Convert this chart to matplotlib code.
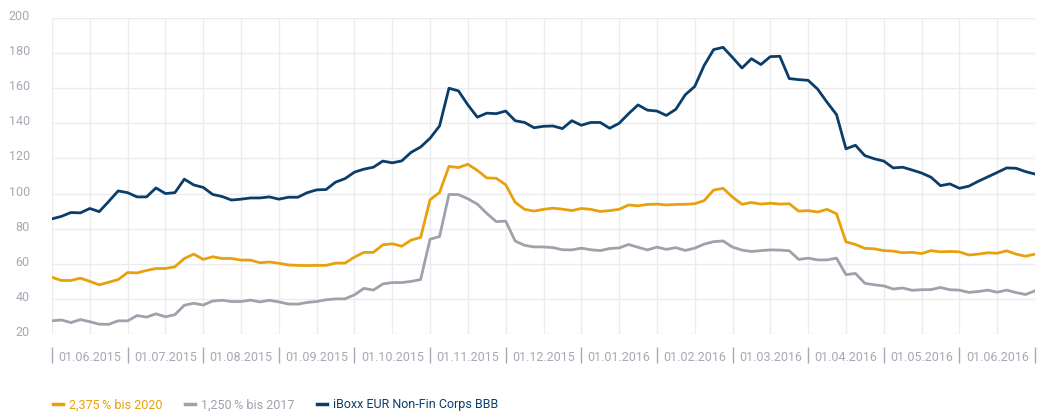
import numpy as np
import matplotlib
matplotlib.use("Agg")
from matplotlib import pyplot as plt
from matplotlib.lines import Line2D
import matplotlib.transforms as mtransforms

plt.rcParams['font.family'] = ['Roboto', 'DejaVu Sans']

##################################
# DATA (spreads, read every quarter of a grid step = ~1 week)
##################################
month_labels = ["01.06.2015", "01.07.2015", "01.08.2015", "01.09.2015",
                "01.10.2015", "01.11.2015", "01.12.2015", "01.01.2016",
                "01.02.2016", "01.03.2016", "01.04.2016", "01.05.2016",
                "01.06.2016"]
y_ticks = [20, 40, 60, 80, 100, 120, 140, 160, 180, 200]

name_2020 = "2,375\u2009% bis 2020"
name_2017 = "1,250\u2009% bis 2017"
name_iboxx = "iBoxx EUR Non-Fin Corps BBB"

bond_2020 = [52.3, 50.5, 50.5, 51.8, 50.0, 48.0, 49.5, 51.0, 55.0, 54.8, 56.2, 57.3, 57.3, 58.3,
             63.0, 65.5, 62.5, 64.0, 63.0, 63.0, 62.1, 62.1, 60.6, 61.0, 60.3, 59.3, 59.1,
             59.0, 59.1, 59.1, 60.4, 60.4, 63.8, 66.5, 66.5, 70.8, 71.4, 70.0, 73.5, 75.0,
             96.5, 100.6, 115.5, 114.8, 116.7, 113.2, 108.9, 108.7, 105.0, 95.0, 91.0, 90.0, 91.0,
             91.7, 91.1, 90.3, 91.5, 91.0, 89.8, 90.3, 91.0, 93.5, 93.0, 93.8, 94.0, 93.5, 93.8,
             93.9, 94.2, 96.0, 102.0, 103.0, 98.0, 93.9, 94.9, 94.0, 94.5, 94.0, 94.2, 90.0,
             90.3, 89.5, 91.0, 88.5, 72.5, 71.0, 68.8, 68.5, 67.5, 67.2, 66.3, 66.5, 65.8,
             67.5, 66.8, 67.0, 66.8, 65.0, 65.5, 66.3, 66.0, 67.4, 65.5, 64.3, 65.5]

bond_2017 = [27.5, 28.0, 26.5, 28.2, 27.0, 25.6, 25.5, 27.5, 27.5, 30.5, 29.6, 31.5, 29.8, 31.0,
             36.4, 37.5, 36.5, 38.8, 39.2, 38.5, 38.5, 39.3, 38.3, 39.2, 38.3, 37.1, 37.0,
             38.0, 38.5, 39.5, 40.0, 40.0, 42.3, 46.0, 45.0, 48.5, 49.3, 49.3, 50.0, 51.0,
             74.0, 75.5, 99.5, 99.4, 97.0, 94.0, 88.7, 84.0, 84.3, 73.0, 70.5, 69.6, 69.6,
             69.2, 68.0, 67.9, 68.9, 68.0, 67.5, 68.7, 69.0, 71.0, 69.4, 67.9, 69.5, 68.2, 69.2,
             67.6, 68.9, 71.2, 72.6, 73.0, 69.5, 67.8, 67.0, 67.5, 67.9, 67.8, 67.4, 62.5,
             63.2, 62.2, 62.2, 63.2, 53.8, 54.5, 48.9, 48.0, 47.4, 45.6, 46.2, 44.9, 45.2,
             45.3, 46.5, 45.2, 45.0, 43.7, 44.2, 45.0, 43.8, 45.0, 43.6, 42.5, 44.6]

iboxx_bbb = [85.6, 87.0, 89.2, 89.0, 91.5, 89.7, 95.5, 101.5, 100.5, 98.1, 98.1, 103.2, 100.0, 100.5,
             108.2, 104.9, 103.5, 99.5, 98.3, 96.3, 96.8, 97.5, 97.5, 98.1, 96.8, 97.9, 97.9,
             100.5, 102.1, 102.3, 106.5, 108.5, 112.2, 113.9, 115.0, 118.5, 117.5, 118.6, 123.5, 126.5,
             131.5, 138.5, 160.0, 158.5, 150.5, 143.5, 145.8, 145.5, 147.0, 141.5, 140.5, 137.5, 138.3,
             138.5, 137.0, 141.5, 138.9, 140.5, 140.5, 137.2, 140.0, 145.5, 150.5, 147.5, 147.0, 144.5,
             148.0, 156.3, 161.0, 173.0, 182.0, 183.3, 177.5, 171.5, 176.8, 173.5, 178.0, 178.2, 165.5,
             164.9, 164.5, 159.5, 152.0, 145.0, 125.5, 127.5, 121.6, 119.8, 118.5, 114.6, 115.0, 113.4,
             111.7, 109.3, 104.5, 105.5, 103.0, 104.2, 107.0, 109.5, 112.0, 114.6, 114.4, 112.5, 111.1]

# colours
c_2020 = "#e8a10c"
c_2017 = "#9da2ab"
c_iboxx = "#0b3d6b"
c_text = "#a4a9b3"
c_grid = "#ececee"

# x position in half-month grid steps (0 = mid May 2015)
pos = np.arange(len(iboxx_bbb)) / 4.0

##################################
# PLOT
##################################
W, H = 1055, 414
fig = plt.figure(figsize=(W / 100, H / 100), dpi=100)
ax = fig.add_axes([52 / W, 1 - 335 / H, 983 / W, 316 / H])

ax.plot(pos, bond_2017, color=c_2017, lw=2.0, solid_joinstyle="round")
ax.plot(pos, bond_2020, color=c_2020, lw=2.0, solid_joinstyle="round")
ax.plot(pos, iboxx_bbb, color=c_iboxx, lw=2.0, solid_joinstyle="round")

ax.set_xlim(0, 26)
ax.set_ylim(20, 200)
ax.set_xticks(np.arange(27))
ax.set_xticklabels([])
ax.set_yticks(y_ticks)
ax.set_yticklabels([str(v) for v in y_ticks], fontsize=9, color=c_text)
ax.tick_params(length=0)
ax.tick_params(axis="y", pad=16)
ax.grid(True, color=c_grid, lw=1)
ax.set_axisbelow(True)
for s in ax.spines.values():
    s.set_visible(False)

# move y labels a little above their gridline
shift = mtransforms.ScaledTranslation(0, 4 / 100, fig.dpi_scale_trans)
for lbl in ax.get_yticklabels():
    lbl.set_transform(lbl.get_transform() + shift)

# month labels between separators
trans = mtransforms.blended_transform_factory(ax.transData, ax.transAxes)
for i, lab in enumerate(month_labels):
    ax.text(2 * i + 1, -(358 - 335) / 316, lab, transform=trans, ha="center", va="center",
            fontsize=9, color=c_text)
ax.vlines(np.arange(0, 27, 2), -(364 - 335) / 316, -(348 - 335) / 316, transform=trans,
          color=c_text, lw=1, clip_on=False)

# legend
ly = 1 - 405 / H
items = [(53, 69, name_2020, c_2020), (185, 201, name_2017, c_2017), (317, 333, name_iboxx, c_iboxx)]
for mx, tx, name, col in items:
    fig.add_artist(Line2D([mx / W, (mx + 10) / W], [ly, ly], color=col, lw=2.5,
                          transform=fig.transFigure))
    fig.text(tx / W, ly, name, color=col, fontsize=9, va="center", ha="left")

fig.savefig("out.png", dpi=100)
